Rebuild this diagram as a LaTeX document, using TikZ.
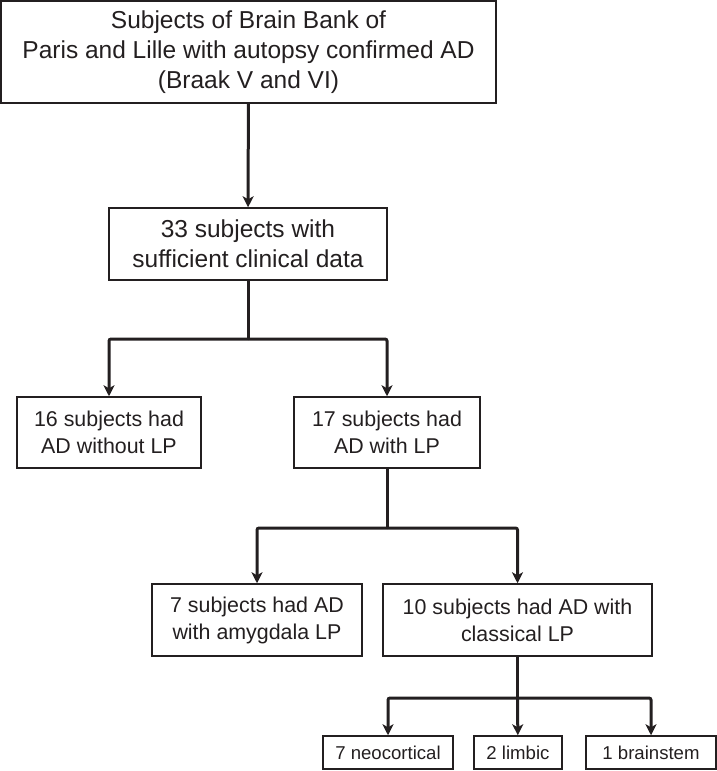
\documentclass[tikz,border=0pt]{standalone}
\usepackage{fontspec}
\setmainfont{Liberation Sans}
\usetikzlibrary{arrows.meta}
\definecolor{ink}{HTML}{231F20}
\tikzset{
  box/.style={draw=ink, line width=1.5pt, inner sep=0pt, align=center, text=ink},
  big/.style={font=\fontsize{24.5}{30}\selectfont},
  mid/.style={font=\fontsize{21.4}{27}\selectfont},
  small/.style={font=\fontsize{18.6}{21}\selectfont},
  link/.style={draw=ink, line width=3pt, rounded corners=2pt},
  arr/.style={-{Stealth[length=11pt,width=11pt,inset=3pt]}}
}
\begin{document}
\begin{tikzpicture}[x=1pt,y=-1pt]
  \useasboundingbox (0,0) rectangle (717,771);
  \node[box,big,minimum width=495pt,minimum height=102pt] (bank) at (248.5,52)
    {Subjects of Brain Bank of\\Paris and Lille with autopsy confirmed AD\\(Braak V and VI)};
  \node[box,big,minimum width=278pt,minimum height=72pt] (data) at (248,244)
    {33 subjects with\\sufficient clinical data};
  \node[box,mid,minimum width=184pt,minimum height=71pt] (nolp) at (109,432.5)
    {16 subjects had\\AD without LP};
  \node[box,mid,minimum width=186pt,minimum height=71pt] (lp) at (387,432.5)
    {17 subjects had\\AD with LP};
  \node[box,mid,minimum width=210pt,minimum height=72pt] (amyg) at (257,620)
    {7 subjects had AD\\with amygdala LP};
  \node[box,mid,minimum width=269pt,minimum height=72pt] (classic) at (517.5,620)
    {10 subjects had AD with\\classical LP};
  \node[box,small,minimum width=130pt,minimum height=33pt] (neo) at (388,752.5) {7 neocortical};
  \node[box,small,minimum width=88pt,minimum height=33pt] (limbic) at (518,752.5) {2 limbic};
  \node[box,small,minimum width=130pt,minimum height=33pt] (stem) at (651,752.5) {1 brainstem};
  \coordinate (j1) at (248,339);
  \coordinate (j2) at (387,528);
  \coordinate (j3) at (517.5,698);
  \begin{scope}[link]
    \draw[arr] (bank) to (data);
    \draw (data) to (j1);
    \draw[arr] (j1) -| (nolp);
    \draw[arr] (j1) -| (lp);
    \draw (lp) to (j2);
    \draw[arr] (j2) -| (amyg);
    \draw[arr] (j2) -| (classic);
    \draw (classic) to (j3);
    \draw[arr] (j3) -| (neo);
    \draw[arr] (j3) to (limbic);
    \draw[arr] (j3) -| (stem);
  \end{scope}
\end{tikzpicture}
\end{document}
